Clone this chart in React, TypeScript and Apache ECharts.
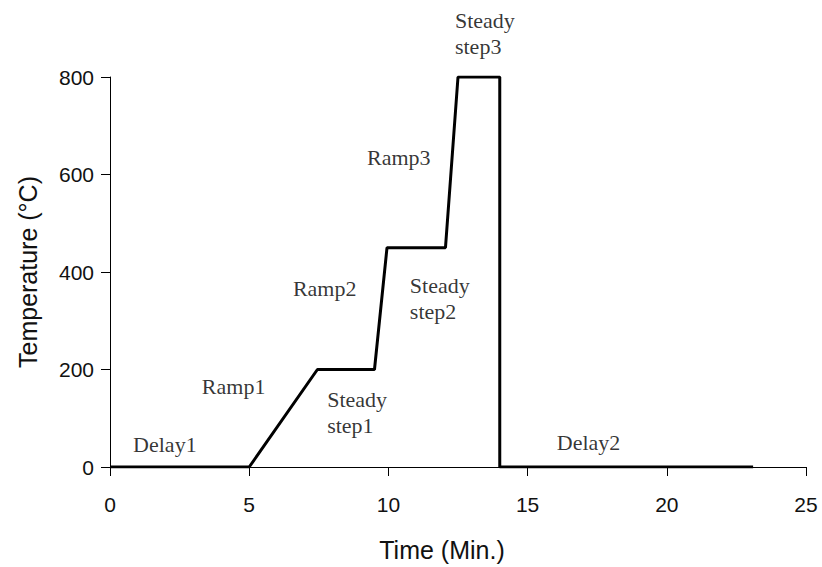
import React, { useEffect, useRef } from "react";
import * as echarts from "echarts";

// Temperature profile (time in min, temperature in °C)
const timeValues = [0, 5, 7.45, 9.5, 9.95, 12.05, 12.5, 14, 14, 23.1];
const tempValues = [0, 0, 200, 200, 450, 450, 800, 800, 0, 0];

// Stage annotations (anchor at left/middle of the text, in data coords)
const stageNames = ["Delay1", "Ramp1", "Steady\nstep1", "Ramp2", "Steady\nstep2", "Ramp3", "Steady\nstep3", "Delay2"];
const stageX = [0.83, 3.3, 7.8, 6.57, 10.77, 9.23, 12.39, 16.05];
const stageY = [47, 165, 112, 367, 345, 635, 890, 51];

const xTicks = { min: 0, max: 25, interval: 5 };
const yTicks = { min: 0, max: 800, interval: 200 };

export default function App() {
  const ref = useRef<HTMLDivElement>(null);
  useEffect(() => {
    if (!ref.current) return;
    const chart = echarts.init(ref.current, null, { renderer: "svg" });
    const sans = "'Liberation Sans', Arial, sans-serif";
    const serif = "'Liberation Serif', 'Times New Roman', serif";
    chart.setOption({
      animation: false,
      backgroundColor: "#fff",
      grid: { left: 110, right: 16, top: 77, bottom: 98, containLabel: false },
      xAxis: {
        type: "value",
        min: xTicks.min,
        max: xTicks.max,
        interval: xTicks.interval,
        name: "Time (Min.)",
        nameLocation: "middle",
        nameGap: 70,
        nameTextStyle: { fontFamily: sans, fontSize: 25, color: "#111", padding: [0, 32, 0, 0] },
        axisLine: { show: true, lineStyle: { color: "#000", width: 1 } },
        axisTick: { show: true, length: 9, lineStyle: { color: "#000", width: 1 } },
        axisLabel: { fontFamily: sans, fontSize: 21, color: "#111", margin: 27 },
        splitLine: { show: false },
      },
      yAxis: {
        type: "value",
        min: yTicks.min,
        max: yTicks.max,
        interval: yTicks.interval,
        name: "Temperature (°C)",
        nameLocation: "middle",
        nameGap: 70,
        nameTextStyle: { fontFamily: sans, fontSize: 25, color: "#111" },
        axisLine: { show: true, lineStyle: { color: "#000", width: 1 } },
        axisTick: { show: true, length: 9, lineStyle: { color: "#000", width: 1 } },
        axisLabel: { fontFamily: sans, fontSize: 21, color: "#111", margin: 16 },
        splitLine: { show: false },
      },
      series: [
        {
          type: "line",
          data: timeValues.map((t, i) => [t, tempValues[i]]),
          symbol: "none",
          lineStyle: { color: "#000", width: 3 },
          silent: true,
        },
        {
          type: "scatter",
          clip: false,
          symbolSize: 0,
          silent: true,
          data: stageNames.map((n, i) => ({ value: [stageX[i], stageY[i]], name: n })),
          label: {
            show: true,
            position: "right",
            distance: 0,
            formatter: (p: any) => p.name,
            fontFamily: serif,
            fontSize: 22,
            lineHeight: 26,
            color: "#000",
            align: "left",
            verticalAlign: "middle",
          },
        },
      ],
    });
    return () => chart.dispose();
  }, []);
  return <div ref={ref} style={{ width: 822, height: 567, position: "absolute", left: 0, top: 0 }} />;
}
